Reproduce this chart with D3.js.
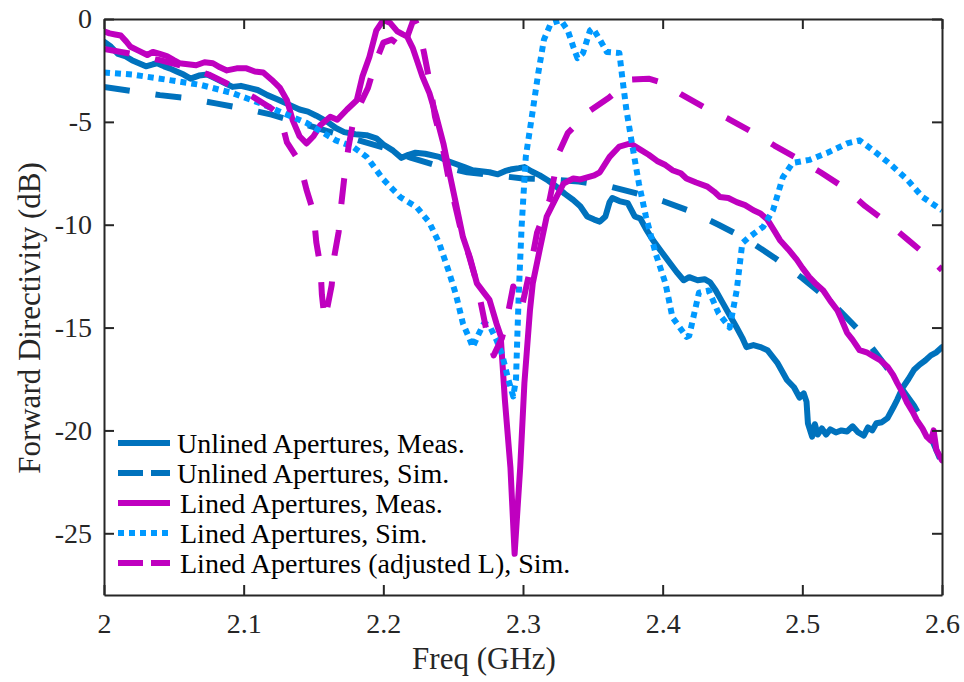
<!DOCTYPE html>
<html>
<head>
<meta charset="utf-8">
<script src="https://cdn.jsdelivr.net/npm/d3@7"></script>
<style>
body { margin: 0; background: #fff; }
svg { display: block; font-family: "Liberation Serif", "Times New Roman", serif; }
svg text { font-family: "Liberation Serif", "Times New Roman", serif; }
</style>
</head>
<body>
<svg id="chart"></svg>
<script>
const xTicks = [2, 2.1, 2.2, 2.3, 2.4, 2.5, 2.6];
const yTicks = [0, -5, -10, -15, -20, -25];

const seriesNames = [
	'Unlined Apertures, Meas.',
	'Unlined Apertures, Sim.',
	'Lined Apertures, Meas.',
	'Lined Apertures, Sim.',
	'Lined Apertures (adjusted L), Sim.'
];

// [freq GHz, directivity dB]
const unlinedMeas = [[2.000,-1.10],[2.005,-1.35],[2.010,-1.70],[2.015,-1.80],[2.020,-2.00],[2.025,-2.15],[2.030,-2.30],[2.035,-2.20],[2.038,-2.15],[2.043,-2.30],[2.047,-2.40],[2.052,-2.55],[2.057,-2.70],[2.062,-2.90],[2.068,-2.75],[2.074,-2.70],[2.080,-2.90],[2.086,-3.10],[2.092,-3.30],[2.098,-3.25],[2.104,-3.35],[2.110,-3.45],[2.117,-3.70],[2.124,-3.90],[2.132,-4.15],[2.140,-4.40],[2.146,-4.50],[2.152,-4.70],[2.160,-5.00],[2.166,-5.30],[2.172,-5.50],[2.180,-5.60],[2.188,-5.65],[2.195,-5.80],[2.200,-6.10],[2.207,-6.40],[2.213,-6.75],[2.218,-6.60],[2.223,-6.50],[2.230,-6.55],[2.240,-6.70],[2.246,-6.90],[2.252,-7.05],[2.258,-7.20],[2.264,-7.35],[2.270,-7.40],[2.276,-7.45],[2.282,-7.55],[2.287,-7.40],[2.292,-7.30],[2.297,-7.25],[2.301,-7.20],[2.306,-7.40],[2.312,-7.60],[2.318,-7.85],[2.324,-8.15],[2.330,-8.50],[2.336,-8.80],[2.341,-9.10],[2.346,-9.60],[2.351,-9.75],[2.355,-9.85],[2.359,-9.60],[2.362,-8.90],[2.364,-8.70],[2.369,-8.85],[2.375,-8.95],[2.380,-9.60],[2.384,-9.70],[2.388,-10.20],[2.393,-10.75],[2.399,-11.30],[2.405,-11.85],[2.410,-12.30],[2.415,-12.70],[2.419,-12.55],[2.425,-12.70],[2.430,-12.65],[2.434,-12.80],[2.438,-13.20],[2.443,-13.80],[2.448,-14.40],[2.453,-15.00],[2.457,-15.50],[2.460,-15.95],[2.465,-15.85],[2.470,-15.95],[2.475,-16.10],[2.482,-16.70],[2.489,-17.55],[2.494,-17.90],[2.498,-18.40],[2.501,-18.20],[2.503,-18.60],[2.504,-19.65],[2.507,-20.30],[2.509,-19.70],[2.511,-20.20],[2.514,-19.90],[2.517,-20.20],[2.520,-19.95],[2.524,-20.10],[2.528,-20.00],[2.532,-20.05],[2.536,-19.80],[2.540,-20.10],[2.544,-20.25],[2.547,-19.85],[2.550,-20.00],[2.553,-19.65],[2.557,-19.60],[2.561,-19.40],[2.565,-18.90],[2.568,-18.50],[2.572,-17.90],[2.576,-17.50],[2.580,-17.05],[2.584,-16.80],[2.588,-16.60],[2.592,-16.35],[2.596,-16.20],[2.600,-15.95]];

const unlinedSim = [[2.00,-3.30],[2.02,-3.50],[2.04,-3.70],[2.06,-3.85],[2.08,-4.10],[2.10,-4.35],[2.12,-4.65],[2.14,-5.05],[2.16,-5.45],[2.18,-5.85],[2.20,-6.25],[2.22,-6.75],[2.24,-7.15],[2.26,-7.45],[2.28,-7.60],[2.30,-7.75],[2.32,-7.80],[2.34,-7.90],[2.36,-8.10],[2.38,-8.45],[2.40,-8.85],[2.42,-9.35],[2.44,-10.00],[2.46,-10.70],[2.48,-11.60],[2.50,-12.60],[2.52,-13.70],[2.54,-15.10],[2.56,-16.90],[2.58,-18.80],[2.59,-20.00],[2.60,-21.60]];

const linedMeas = [[2.000,-0.60],[2.004,-0.70],[2.008,-0.75],[2.012,-0.80],[2.016,-1.10],[2.019,-1.35],[2.025,-1.55],[2.031,-1.75],[2.035,-1.60],[2.040,-1.70],[2.045,-1.80],[2.050,-2.00],[2.054,-2.15],[2.060,-2.20],[2.066,-2.25],[2.072,-2.10],[2.078,-2.15],[2.083,-2.35],[2.088,-2.50],[2.095,-2.40],[2.102,-2.40],[2.108,-2.55],[2.114,-2.60],[2.120,-2.95],[2.126,-3.35],[2.131,-3.95],[2.135,-4.90],[2.140,-5.70],[2.145,-6.05],[2.150,-5.70],[2.155,-5.15],[2.162,-4.75],[2.167,-4.90],[2.174,-4.40],[2.181,-3.95],[2.185,-2.80],[2.190,-1.85],[2.195,-0.55],[2.200,-0.05],[2.205,-0.20],[2.210,-0.60],[2.214,-0.75],[2.217,-0.85],[2.221,-1.40],[2.224,-2.00],[2.228,-2.80],[2.233,-3.60],[2.238,-4.75],[2.243,-6.05],[2.248,-7.70],[2.253,-9.30],[2.257,-10.60],[2.262,-11.60],[2.267,-12.85],[2.272,-13.30],[2.276,-13.65],[2.281,-14.80],[2.284,-15.40],[2.287,-18.50],[2.291,-21.80],[2.294,-26.00],[2.298,-21.80],[2.301,-17.70],[2.305,-14.15],[2.307,-12.85],[2.312,-11.20],[2.317,-9.60],[2.324,-8.65],[2.329,-8.00],[2.336,-7.75],[2.341,-7.80],[2.346,-7.70],[2.351,-7.60],[2.355,-7.45],[2.362,-6.70],[2.369,-6.20],[2.377,-6.05],[2.384,-6.35],[2.390,-6.60],[2.396,-6.90],[2.402,-7.10],[2.407,-7.35],[2.413,-7.50],[2.417,-7.75],[2.424,-7.95],[2.432,-8.15],[2.437,-8.40],[2.441,-8.65],[2.447,-8.70],[2.453,-8.90],[2.459,-9.05],[2.465,-9.30],[2.470,-9.45],[2.475,-9.75],[2.480,-10.30],[2.484,-10.75],[2.490,-11.20],[2.496,-11.70],[2.500,-12.10],[2.505,-12.55],[2.510,-12.90],[2.515,-13.20],[2.520,-13.70],[2.525,-14.15],[2.528,-14.60],[2.532,-15.25],[2.536,-15.60],[2.541,-16.10],[2.546,-16.20],[2.551,-16.40],[2.556,-16.60],[2.561,-16.90],[2.565,-17.30],[2.568,-17.70],[2.572,-18.20],[2.575,-18.65],[2.579,-19.10],[2.582,-19.50],[2.586,-19.90],[2.589,-20.30],[2.592,-20.50],[2.594,-20.00],[2.596,-20.95],[2.598,-21.20],[2.600,-21.45]];

const linedSim = [[2.000,-2.60],[2.020,-2.70],[2.045,-2.95],[2.069,-3.20],[2.092,-3.60],[2.112,-4.10],[2.131,-4.65],[2.145,-5.05],[2.166,-5.90],[2.178,-6.20],[2.188,-6.70],[2.200,-7.80],[2.212,-8.65],[2.224,-9.15],[2.233,-9.90],[2.240,-10.90],[2.247,-12.30],[2.252,-13.40],[2.257,-14.80],[2.262,-15.60],[2.264,-15.95],[2.268,-15.35],[2.272,-14.80],[2.276,-14.90],[2.281,-15.60],[2.285,-16.30],[2.289,-17.40],[2.293,-18.35],[2.295,-17.50],[2.296,-15.30],[2.297,-13.30],[2.299,-10.10],[2.302,-6.70],[2.306,-4.90],[2.311,-2.60],[2.315,-1.00],[2.320,-0.20],[2.327,-0.05],[2.332,-0.55],[2.336,-1.35],[2.339,-1.90],[2.343,-1.65],[2.348,-0.55],[2.350,-0.45],[2.355,-1.00],[2.360,-1.60],[2.369,-1.65],[2.371,-2.80],[2.374,-4.40],[2.378,-6.05],[2.383,-8.00],[2.388,-9.60],[2.395,-11.40],[2.402,-12.85],[2.407,-14.50],[2.417,-15.45],[2.419,-15.40],[2.426,-13.30],[2.433,-13.20],[2.440,-14.30],[2.448,-15.00],[2.453,-13.20],[2.457,-10.90],[2.462,-10.60],[2.472,-10.10],[2.479,-9.30],[2.486,-7.70],[2.493,-7.00],[2.505,-6.85],[2.518,-6.50],[2.532,-6.05],[2.541,-5.90],[2.550,-6.35],[2.562,-7.00],[2.575,-7.80],[2.586,-8.65],[2.600,-9.30]];

const linedAdjSim = [[2.000,-1.45],[2.020,-1.70],[2.040,-2.00],[2.060,-2.35],[2.075,-2.70],[2.090,-3.20],[2.107,-3.80],[2.120,-4.35],[2.126,-4.70],[2.131,-6.00],[2.140,-6.95],[2.145,-8.30],[2.150,-9.40],[2.152,-10.85],[2.155,-12.05],[2.156,-13.40],[2.158,-14.65],[2.160,-14.00],[2.163,-12.95],[2.165,-11.50],[2.168,-10.35],[2.170,-8.95],[2.172,-7.75],[2.175,-6.25],[2.178,-5.15],[2.183,-4.20],[2.189,-3.35],[2.195,-2.00],[2.200,-1.15],[2.206,-1.00],[2.210,-1.20],[2.214,-1.55],[2.218,-0.70],[2.222,0.05],[2.225,-0.40],[2.229,-1.60],[2.233,-3.00],[2.237,-4.75],[2.242,-6.05],[2.246,-7.50],[2.250,-8.65],[2.255,-10.10],[2.260,-11.20],[2.267,-12.85],[2.274,-15.20],[2.279,-16.35],[2.285,-15.50],[2.289,-14.40],[2.293,-13.00],[2.299,-14.05],[2.305,-12.20],[2.310,-10.40],[2.319,-8.80],[2.326,-6.45],[2.332,-5.55],[2.340,-5.00],[2.347,-4.50],[2.362,-3.80],[2.377,-2.95],[2.390,-2.90],[2.400,-3.10],[2.413,-3.65],[2.430,-4.30],[2.447,-4.85],[2.463,-5.45],[2.480,-6.15],[2.497,-6.80],[2.513,-7.45],[2.530,-8.20],[2.545,-9.10],[2.560,-9.85],[2.575,-10.70],[2.590,-11.55],[2.600,-12.20]];

const seriesData = [unlinedMeas, unlinedSim, linedMeas, linedSim, linedAdjSim];
const seriesColors = ['#0072BD', '#0072BD', '#BF00BF', '#0099FF', '#BF00BF'];
const seriesDash = [null, '26,26', null, '6,5', '26,26'];
const legendDash = [null, '25,8', null, '6,5', '25,8'];

const width = 964, height = 682;
const margin = {top: 19, right: 22, bottom: 87, left: 104};
const innerW = width - margin.left - margin.right;
const innerH = height - margin.top - margin.bottom;
const axisColor = '#262626';
const serif = '"Liberation Serif", "Times New Roman", serif';

const svg = d3.select('#chart')
	.attr('width', width)
	.attr('height', height);

const x = d3.scaleLinear().domain([2, 2.6]).range([0, innerW]);
const y = d3.scaleLinear().domain([-28, 0]).range([innerH, 0]);

const g = svg.append('g').attr('transform', `translate(${margin.left},${margin.top})`);

g.append('clipPath').attr('id', 'plot-clip')
	.append('rect').attr('width', innerW).attr('height', innerH);

const line = d3.line()
	.x(d => x(d[0]))
	.y(d => y(d[1]));

const curves = g.append('g').attr('clip-path', 'url(#plot-clip)');
seriesData.forEach((data, i) => {
	curves.append('path')
		.datum(data)
		.attr('d', line)
		.attr('fill', 'none')
		.attr('stroke', seriesColors[i])
		.attr('stroke-width', 6)
		.attr('stroke-linejoin', 'round')
		.attr('stroke-linecap', seriesDash[i] ? 'butt' : 'round')
		.attr('stroke-dasharray', seriesDash[i]);
});

// axes, ticks inside on all four sides
function styleAxis (sel) {
	sel.attr('font-family', serif).attr('font-size', 28);
	sel.select('.domain').attr('stroke', axisColor).attr('stroke-width', 2);
	sel.selectAll('.tick line').attr('stroke', axisColor).attr('stroke-width', 2);
	sel.selectAll('.tick text').attr('fill', axisColor);
}

g.append('g')
	.attr('transform', `translate(0,${innerH})`)
	.call(d3.axisBottom(x).tickValues(xTicks).tickFormat(d => String(d)).tickSize(-10).tickSizeOuter(0).tickPadding(18))
	.call(styleAxis);

g.append('g')
	.call(d3.axisTop(x).tickValues(xTicks).tickFormat('').tickSize(-10).tickSizeOuter(0))
	.call(styleAxis);

g.append('g')
	.call(d3.axisLeft(y).tickValues(yTicks).tickFormat(d => String(d)).tickSize(-10).tickSizeOuter(0).tickPadding(12))
	.call(styleAxis);

g.append('g')
	.attr('transform', `translate(${innerW},0)`)
	.call(d3.axisRight(y).tickValues(yTicks).tickFormat('').tickSize(-10).tickSizeOuter(0))
	.call(styleAxis);

// axis labels
svg.append('text')
	.attr('x', 484)
	.attr('y', 669)
	.attr('text-anchor', 'middle')
	.attr('fill', axisColor)
	.style('font-size', '31px')
	.text('Freq (GHz)');

svg.append('text')
	.attr('transform', 'translate(40,318) rotate(-90)')
	.attr('text-anchor', 'middle')
	.attr('fill', axisColor)
	.style('font-size', '31px')
	.text('Forward Directivity (dB)');

// legend (no box)
const legend = svg.append('g').attr('transform', 'translate(118,443)');
seriesNames.forEach((name, i) => {
	const row = legend.append('g').attr('transform', `translate(0,${i * 30})`);
	row.append('line')
		.attr('x1', 0).attr('x2', 52)
		.attr('y1', 0).attr('y2', 0)
		.attr('stroke', seriesColors[i])
		.attr('stroke-width', 6)
		.attr('stroke-dasharray', legendDash[i]);
	row.append('text')
		.attr('x', i < 2 ? 59 : 62)
		.attr('y', 10)
		.attr('fill', '#000')
		.style('font-size', '28px')
		.text(name);
});
</script>
</body>
</html>
